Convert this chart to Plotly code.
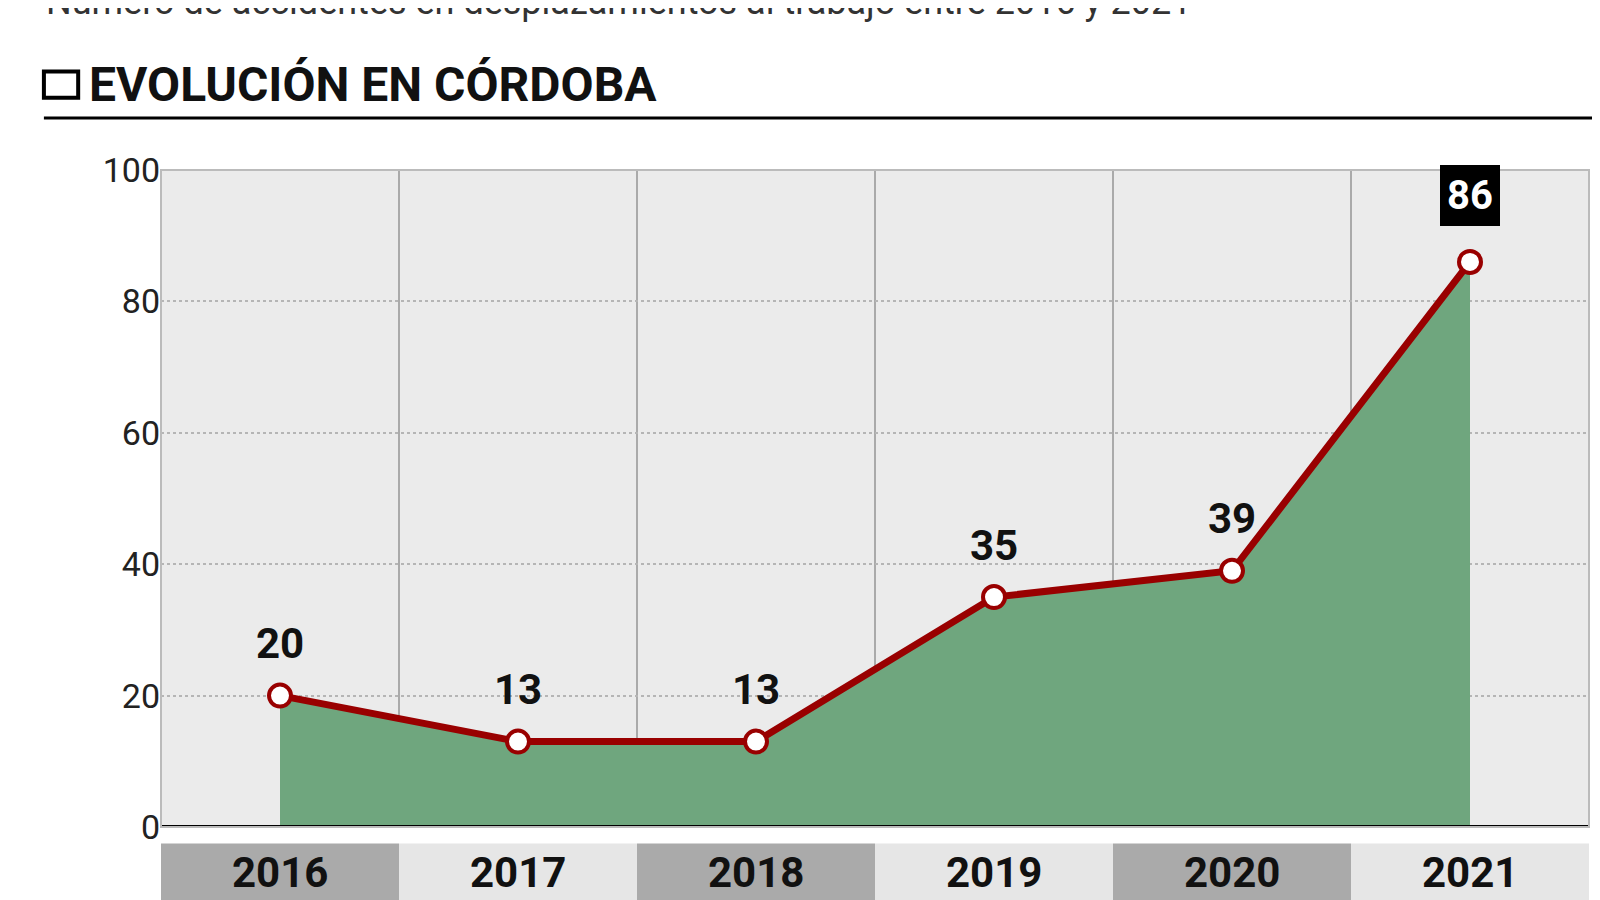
import plotly.graph_objects as go

years = ["2016", "2017", "2018", "2019", "2020", "2021"]
values = [20, 13, 13, 35, 39, 86]
y_ticks = [0, 20, 40, 60, 80, 100]

xs = list(range(len(years)))
F = "Liberation Sans Narrow, Roboto, sans-serif"

fig = go.Figure()
fig.add_trace(go.Scatter(x=xs, y=values, fill="tozeroy", fillcolor="#6fa67e",
                         mode="lines+markers", line=dict(color="#990000", width=7),
                         marker=dict(size=22, color="white", line=dict(color="#990000", width=4)),
                         hoverinfo="skip"))
for x, v in zip(xs[:-1], values[:-1]):
    fig.add_annotation(x=x, y=v, yshift=52, text="<b>%d</b>" % v, showarrow=False,
                       font=dict(family=F, size=42, color="#111"))
fig.add_annotation(x=xs[-1], y=values[-1], yshift=66, text="<b>%d</b>" % values[-1],
                   showarrow=False, bgcolor="black", font=dict(family=F, size=40, color="white"),
                   borderpad=5, bordercolor="black", borderwidth=2)

shapes = []
for i in range(len(years) - 1):
    shapes.append(dict(type="line", xref="x", yref="y", x0=i + 0.5, x1=i + 0.5, y0=0, y1=100,
                       line=dict(color="#aaaaaa", width=2), layer="below"))
shapes.append(dict(type="line", xref="paper", yref="y", x0=0, x1=1, y0=0, y1=0,
                   line=dict(color="black", width=4)))
shapes.append(dict(type="rect", xref="paper", yref="paper", x0=0, x1=1, y0=0, y1=1,
                   line=dict(color="#bbbbbb", width=2)))
for i, yr in enumerate(years):
    shapes.append(dict(type="rect", xref="x", yref="paper", x0=i - 0.5, x1=i + 0.5,
                       y0=-0.22, y1=-0.025, fillcolor="#aaaaaa" if i % 2 == 0 else "#e6e6e6",
                       line=dict(width=0)))
    fig.add_annotation(x=i, y=-0.11, yref="paper", text="<b>%s</b>" % yr, showarrow=False,
                       font=dict(family=F, size=42, color="#111"))
# header
shapes.append(dict(type="rect", xref="paper", yref="paper", x0=-0.082, x1=-0.058, y0=1.11, y1=1.15,
                   line=dict(color="black", width=4)))
shapes.append(dict(type="line", xref="paper", yref="paper", x0=-0.082, x1=1.02, y0=1.079, y1=1.079,
                   line=dict(color="black", width=3)))
fig.add_annotation(x=-0.052, y=1.13, xref="paper", yref="paper", xanchor="left", yanchor="middle",
                   text="<b>EVOLUCIÓN EN CÓRDOBA</b>", showarrow=False,
                   font=dict(family=F, size=48, color="#111"))
fig.add_annotation(x=-0.082, y=1.255, xref="paper", yref="paper", xanchor="left", yanchor="middle",
                   text="Número de accidentes en desplazamientos al trabajo entre 2016 y 2021",
                   showarrow=False, font=dict(family="Roboto, sans-serif", size=36, color="#333"))

fig.update_layout(
    width=1600, height=900, margin=dict(l=153, r=19, t=162, b=81),
    paper_bgcolor="white", plot_bgcolor="#ebebeb", showlegend=False, shapes=shapes,
    xaxis=dict(range=[-0.5, 5.5], showgrid=False, zeroline=False, showticklabels=False),
    yaxis=dict(range=[0, 100], tickvals=y_ticks, showgrid=True, gridcolor="#b5b5b5",
               griddash="dot", gridwidth=2, zeroline=False,
               tickfont=dict(family="Roboto, sans-serif", size=34, color="#222"), ticks=""),
)
fig.write_html("out.html")
